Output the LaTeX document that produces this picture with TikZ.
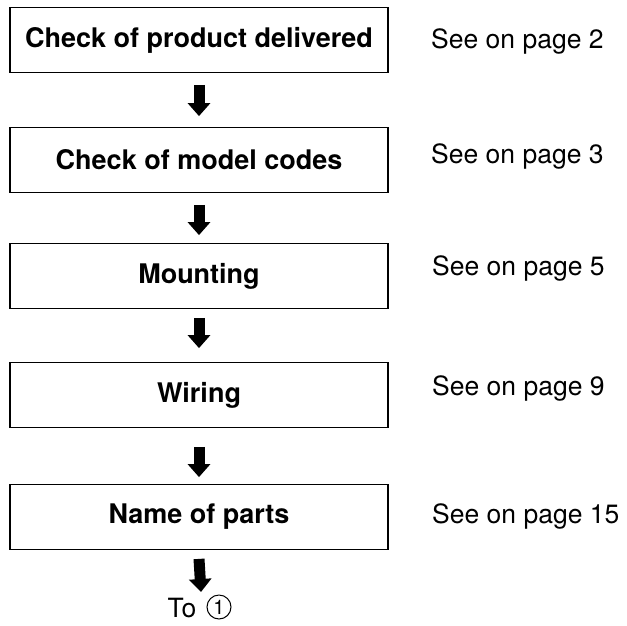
\documentclass[tikz,border=0pt]{standalone}
\usepackage{fontspec}
\setmainfont{TeX Gyre Heros}
\usetikzlibrary{arrows.meta}
\begin{document}
\begin{tikzpicture}[x=1pt,y=-1pt,
  stepbox/.style={draw,line width=1.8pt,minimum width=378pt,minimum height=65pt,
    inner sep=0pt,font=\fontsize{27}{31}\selectfont\bfseries},
  pageref/.style={anchor=base west,inner sep=0pt,font=\fontsize{26.5}{30}\selectfont},
  flow/.style={line width=11pt,-{Triangle[width=22pt,length=13pt]}}]
\useasboundingbox (0,0) rectangle (627,625);
% process steps
\node[stepbox] (b1) at (199,40) {Check of product delivered};
\node[stepbox] (b2) at (199,160) {Check of model codes};
\node[stepbox] (b3) at (199,276) {Mounting};
\node[stepbox] (b4) at (199,395) {Wiring};
\node[stepbox] (b5) at (199,517) {Name of parts};
% page references
\node[pageref] (p1) at (431,48) {See on page 2};
\node[pageref] (p2) at (431,163) {See on page 3};
\node[pageref] (p3) at (432,275) {See on page 5};
\node[pageref] (p4) at (432,395) {See on page 9};
\node[pageref] (p5) at (432,523) {See on page 15};
% continuation mark: "To" and a circled 1
\node[anchor=base,inner sep=0pt,font=\fontsize{26.5}{30}\selectfont] (to) at (182,617) {To};
\node[circle,draw,line width=1pt,inner sep=0pt,minimum size=24pt,
  font=\fontsize{20}{22}\selectfont] (one) at (219,607) {1};
\coordinate (c5) at (201,592);
% arrows between steps
\draw[flow] ([yshift=-11.5pt]b1.south) -- ([yshift=10.5pt]b2.north);
\draw[flow] ([yshift=-11.5pt]b2.south) -- ([yshift=7.5pt]b3.north);
\draw[flow] ([yshift=-8.5pt]b3.south) -- ([yshift=13.5pt]b4.north);
\draw[flow] ([yshift=-18.5pt]b4.south) -- ([yshift=6.5pt]b5.north);
\draw[flow] ([yshift=-8.5pt]b5.south) -- (c5);
\end{tikzpicture}
\end{document}
